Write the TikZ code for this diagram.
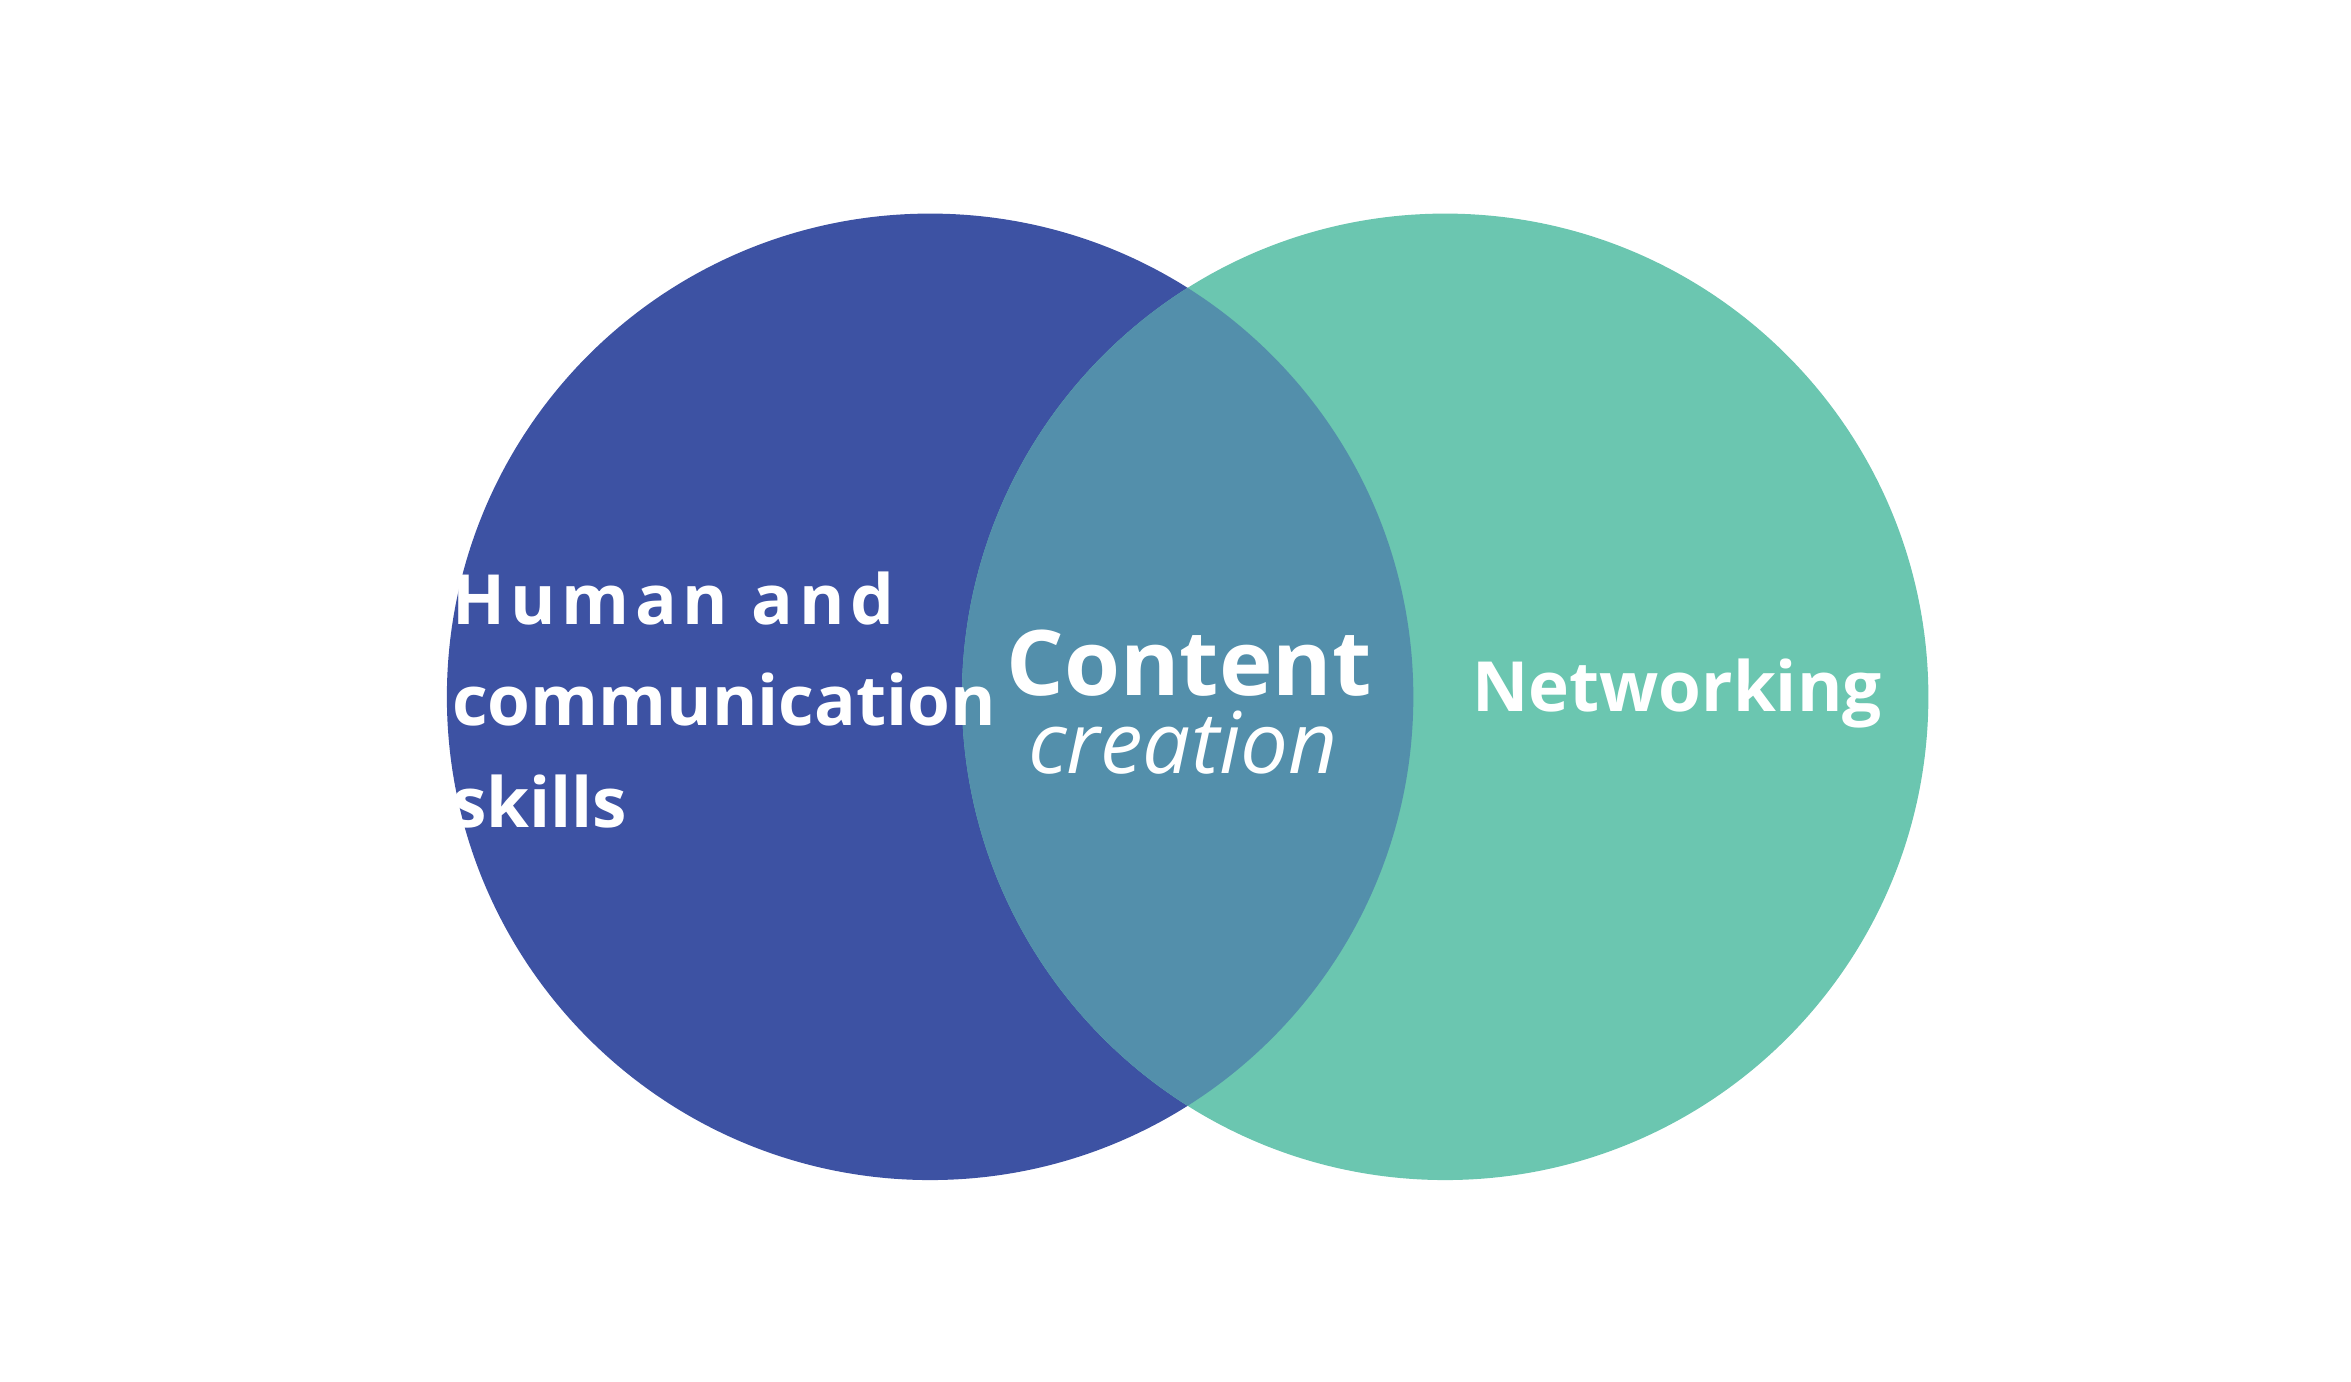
\documentclass[tikz,border=0pt]{standalone}
\usepackage{fontspec}
\setmainfont{Open Sans}
\definecolor{cA}{HTML}{3D52A3}
\definecolor{cB}{HTML}{6BC6B0}
\definecolor{cAB}{HTML}{538FAB}
\begin{document}
\begin{tikzpicture}[x=0.01cm,y=-0.01cm,
  lbl/.style={text=white,font=\fontsize{13}{19}\selectfont\bfseries,align=left}]
\useasboundingbox (0,0) rectangle (1552,912);
\fill[cA] (614,460) circle[radius=319];
\fill[cB] (954,460) circle[radius=319];
\begin{scope}
\clip (614,460) circle[radius=319];
\fill[cAB] (954,460) circle[radius=319];
\end{scope}
\node[lbl] (h) at (478,462) {\addfontfeature{LetterSpace=8}Human and\\communication\\skills};
\node[lbl] (n) at (1107,458) {Networking};
\node[text=white,font=\fontsize{17}{20}\selectfont\bfseries] (c) at (785,438) {Content};
\node[text=white,font=\fontsize{16}{20}\selectfont\itshape] (cr) at (781,490) {creation};
\end{tikzpicture}
\end{document}
